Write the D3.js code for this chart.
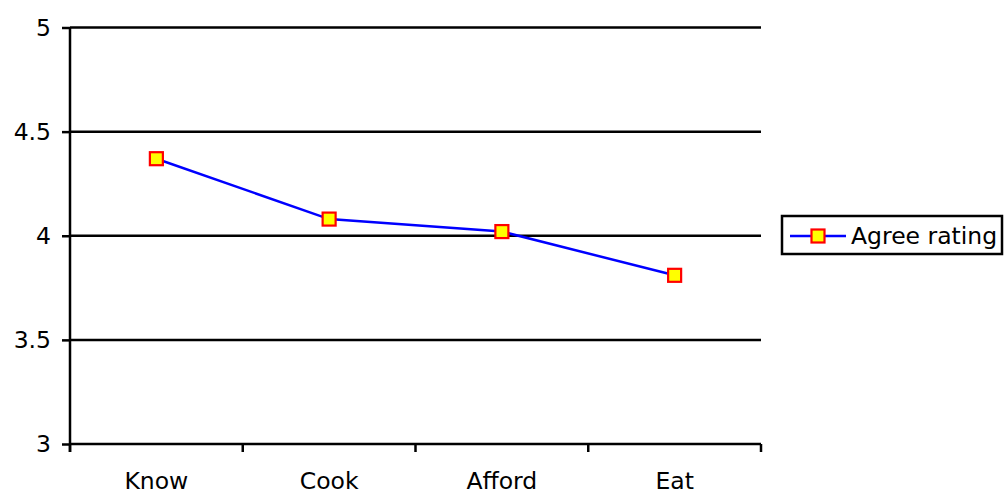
<!DOCTYPE html>
<html>
<head>
<meta charset="utf-8">
<script src="https://cdn.jsdelivr.net/npm/d3@7"></script>
<style>
  html, body { margin: 0; padding: 0; background: #fff; }
  svg { display: block; font-family: "DejaVu Sans", Verdana, sans-serif; }
</style>
</head>
<body>
<svg id="chart" width="1005" height="491"></svg>
<script>
// Agreement ratings per statement
const categories = ["Know", "Cook", "Afford", "Eat"];
const agreeRating = [4.37, 4.08, 4.02, 3.81];
const yTicks = [3, 3.5, 4, 4.5, 5];
const seriesName = "Agree rating";

const svg = d3.select("#chart");
const plotLeft = 70, plotRight = 761, plotTop = 27.5, plotBottom = 444;
const fontSize = 23.5;

const x = d3.scaleBand().domain(categories).range([plotLeft, plotRight]).padding(0);
const y = d3.scaleLinear().domain([3, 5]).range([plotBottom, plotTop]);

// horizontal gridlines
svg.append("g").selectAll("line").data(yTicks.filter(t => t !== 3)).join("line")
  .attr("x1", plotLeft).attr("x2", plotRight)
  .attr("y1", d => y(d)).attr("y2", d => y(d))
  .attr("stroke", "#000").attr("stroke-width", 2.5);

// y axis
const yAxis = d3.axisLeft(y).tickValues(yTicks).tickSize(8).tickPadding(11)
  .tickFormat(d3.format("~g"));
const gy = svg.append("g").attr("transform", `translate(${plotLeft},0)`).call(yAxis);
gy.select(".domain").attr("stroke", "#000").attr("stroke-width", 2.5)
  .attr("d", `M0,${plotTop}V${plotBottom + 8}`);
gy.selectAll(".tick line").attr("stroke", "#000").attr("stroke-width", 2.5);
gy.selectAll(".tick text").attr("font-size", fontSize).attr("fill", "#000")
  .attr("font-family", "DejaVu Sans, Verdana, sans-serif");

// x axis with ticks at category boundaries
const gx = svg.append("g").attr("transform", `translate(0,${plotBottom})`);
gx.append("line").attr("x1", plotLeft).attr("x2", plotRight).attr("y1", 0).attr("y2", 0)
  .attr("stroke", "#000").attr("stroke-width", 2.5);
const bounds = categories.map(c => x(c)).concat([x(categories[categories.length - 1]) + x.bandwidth()]);
gx.selectAll("line.tk").data(bounds).join("line").attr("class", "tk")
  .attr("x1", d => d).attr("x2", d => d).attr("y1", 0).attr("y2", 8)
  .attr("stroke", "#000").attr("stroke-width", 2.5);
gx.selectAll("text").data(categories).join("text")
  .attr("x", d => x(d) + x.bandwidth() / 2).attr("y", 44.5)
  .attr("text-anchor", "middle").attr("font-size", fontSize).attr("fill", "#000")
  .text(d => d);

// series line
const pts = categories.map((c, i) => [x(c) + x.bandwidth() / 2, y(agreeRating[i])]);
svg.append("path").datum(pts)
  .attr("d", d3.line())
  .attr("fill", "none").attr("stroke", "#0000ff").attr("stroke-width", 2.5);

// markers
const ms = 13;
svg.append("g").selectAll("rect").data(pts).join("rect")
  .attr("x", d => d[0] - ms / 2).attr("y", d => d[1] - ms / 2)
  .attr("width", ms).attr("height", ms)
  .attr("fill", "#ffff00").attr("stroke", "#ff0000").attr("stroke-width", 2.2);

// legend
const lg = svg.append("g");
lg.append("rect").attr("x", 782).attr("y", 216).attr("width", 220).attr("height", 38)
  .attr("fill", "#fff").attr("stroke", "#000").attr("stroke-width", 2.5);
lg.append("line").attr("x1", 790).attr("x2", 846).attr("y1", 236).attr("y2", 236)
  .attr("stroke", "#0000ff").attr("stroke-width", 2.5);
lg.append("rect").attr("x", 818 - ms / 2).attr("y", 236 - ms / 2)
  .attr("width", ms).attr("height", ms)
  .attr("fill", "#ffff00").attr("stroke", "#ff0000").attr("stroke-width", 2.2);
lg.append("text").attr("x", 851).attr("y", 236).attr("dominant-baseline", "central")
  .attr("font-size", fontSize).attr("fill", "#000").text(seriesName);
</script>
</body>
</html>
